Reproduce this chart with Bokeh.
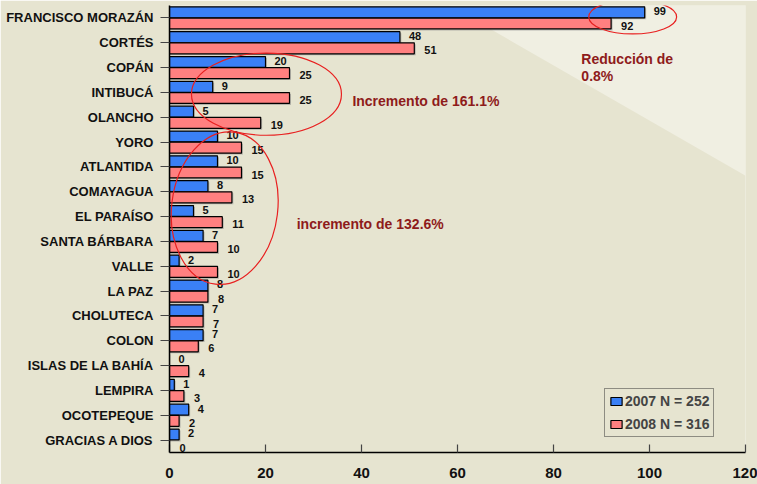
from bokeh.plotting import figure
from bokeh.models import Range1d, FixedTicker, Legend, LegendItem, ColumnDataSource
from bokeh.core.properties import value
from bokeh.embed import file_html
from bokeh.resources import INLINE

departments = ["FRANCISCO MORAZÁN", "CORTÉS", "COPÁN", "INTIBUCÁ", "OLANCHO", "YORO",
               "ATLANTIDA", "COMAYAGUA", "EL PARAÍSO", "SANTA BÁRBARA", "VALLE", "LA PAZ",
               "CHOLUTECA", "COLON", "ISLAS DE LA BAHÍA", "LEMPIRA", "OCOTEPEQUE", "GRACIAS A DIOS"]
values_2007 = [99, 48, 20, 9, 5, 10, 10, 8, 5, 7, 2, 8, 7, 7, 0, 1, 4, 2]
values_2008 = [92, 51, 25, 25, 19, 15, 15, 13, 11, 10, 10, 8, 7, 6, 4, 3, 2, 0]
x_ticks = [0, 20, 40, 60, 80, 100, 120]
legend_labels = ["2007 N = 252", "2008 N = 316"]
notes = ["Reducción de", "0.8%", "Incremento de 161.1%", "incremento de 132.6%"]

BG = "#E6E4D0"
LIGHT = "#F0EFE2"
BLUE = "#3A80F6"
RED = "#FF8080"
DARKRED = "#8E1B1B"
FONT = "Liberation Sans"

idx = list(range(len(departments)))
src = ColumnDataSource(dict(
    y_b=[i - 0.225 for i in idx], y_r=[i + 0.225 for i in idx],
    v07=values_2007, v08=values_2008,
    t07=[str(v) for v in values_2007], t08=[str(v) for v in values_2008],
    ys_b=[i - 0.225 + 0.06 for i in idx], ys_r=[i + 0.225 + 0.06 for i in idx],
    s07=[v + 0.3 if v > 0 else 0 for v in values_2007],
    s08=[v + 0.3 if v > 0 else 0 for v in values_2008],
))

p = figure(width=757, height=484, output_backend="svg", toolbar_location=None,
           x_range=Range1d(0, 120), y_range=Range1d(17.5, -0.5),
           min_border_left=169, min_border_right=12, min_border_top=5, min_border_bottom=32)
p.background_fill_color = BG
p.border_fill_color = BG
p.outline_line_color = None
p.xgrid.visible = False
p.ygrid.visible = False

# lighter diagonal background region
p.patch([56.5, 135, 135], [-0.7, -0.7, 7.46 + 0.111 * 5], fill_color=LIGHT,
        line_color=None, level="underlay")

# bar shadows
p.hbar(y="ys_b", right="s07", left=0, height=0.44, source=src,
       fill_color="#8a8a8a", fill_alpha=0.55, line_color=None)
p.hbar(y="ys_r", right="s08", left=0, height=0.44, source=src,
       fill_color="#8a8a8a", fill_alpha=0.55, line_color=None)

b1 = p.hbar(y="y_b", right="v07", left=0, height=0.44, source=src,
            fill_color=BLUE, line_color="black", line_width=1.2)
b2 = p.hbar(y="y_r", right="v08", left=0, height=0.44, source=src,
            fill_color=RED, line_color="black", line_width=1.2)

p.text(x="v07", y="y_b", text="t07", source=src, x_offset=9, y_offset=-1,
       text_font=value(FONT), text_font_style="bold", text_font_size="11px",
       text_baseline="middle", text_color="#111111")
p.text(x="v08", y="y_r", text="t08", source=src, x_offset=10, y_offset=2,
       text_font=value(FONT), text_font_style="bold", text_font_size="11px",
       text_baseline="middle", text_color="#111111")

# annotation ellipses
p.ellipse(x=[96.5, 20.2, 11.5], y=[-0.04, 3.07, 7.66], width=[18.3, 31.25, 22.1],
          height=[1.37, 3.31, 6.17], angle=[0, 0, -0.12], fill_color=None,
          line_color="#E82020", line_width=1.2)

# annotation texts
p.text(x=[85.8, 85.8, 38.1, 26.5], y=[1.64, 2.32, 3.33, 8.29], text=notes,
       text_font=value(FONT), text_font_style="bold", text_font_size="14px",
       text_baseline="middle", text_color=DARKRED)

# axes
p.xaxis.ticker = FixedTicker(ticks=x_ticks)
p.xaxis.major_tick_in = 8
p.xaxis.major_tick_out = 0
p.xaxis.minor_tick_line_color = None
p.xaxis.major_label_standoff = 15
p.xaxis.major_label_text_font = FONT
p.xaxis.major_label_text_font_style = "bold"
p.xaxis.major_label_text_font_size = "15px"
p.xaxis.major_label_text_color = "#111111"
p.xaxis.axis_line_width = 1.5
p.xaxis.major_tick_line_width = 1.2
p.xaxis.major_tick_line_color = "#444444"

p.yaxis.ticker = FixedTicker(ticks=idx)
p.yaxis.major_label_overrides = {i: d for i, d in zip(idx, departments)}
p.yaxis.major_tick_in = 0
p.yaxis.major_tick_out = 9
p.yaxis.minor_tick_line_color = None
p.yaxis.major_label_standoff = 7
p.yaxis.major_label_text_font = FONT
p.yaxis.major_label_text_font_style = "bold"
p.yaxis.major_label_text_font_size = "13px"
p.yaxis.major_label_text_color = "#111111"
p.yaxis.axis_line_width = 1.5
p.yaxis.major_tick_line_color = "#444444"

legend = Legend(items=[LegendItem(label=legend_labels[0], renderers=[b1]),
                       LegendItem(label=legend_labels[1], renderers=[b2])],
                location=(435, 15), orientation="vertical")
legend.background_fill_color = BG
legend.background_fill_alpha = 1
legend.border_line_color = "#333333"
legend.border_line_width = 1
legend.glyph_width = 14
legend.glyph_height = 10
legend.label_text_font = FONT
legend.label_text_font_style = "bold"
legend.label_text_font_size = "14px"
legend.label_standoff = 2
legend.label_height = 15
legend.padding = 4
legend.spacing = 7
legend.margin = 0
p.add_layout(legend, "center")

open("out.html", "w").write(file_html(p, INLINE))
